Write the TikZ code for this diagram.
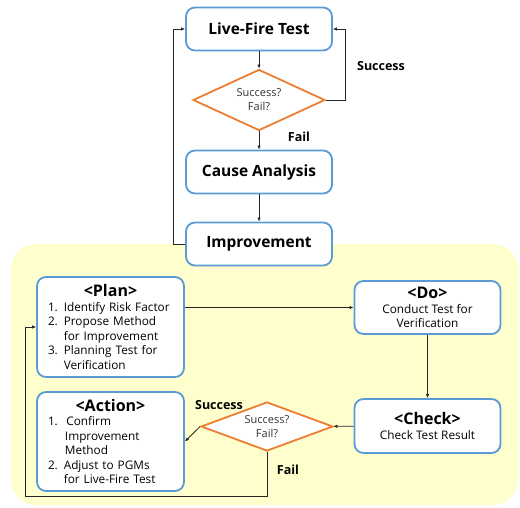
\documentclass[tikz,border=0pt]{standalone}
\usepackage{fontspec}
\setmainfont{Open Sans}
\usetikzlibrary{shapes.geometric,arrows.meta}
\definecolor{boxblue}{RGB}{91,155,213}
\definecolor{diaorange}{RGB}{237,125,49}
\definecolor{pdcayellow}{RGB}{255,255,206}
\newcommand{\headfont}{\fontsize{16}{17}\selectfont\bfseries}
\begin{document}
\begin{tikzpicture}[x=1pt,y=-1pt,
    box/.style={draw=boxblue, line width=1.8pt, rounded corners=9pt, fill=white,
        minimum width=146pt, inner sep=2pt, font=\fontsize{11.8}{14.5}\selectfont},
    listbox/.style={box, inner xsep=11pt, text width=125pt, align=left},
    bigbox/.style={box, minimum height=43pt, font=\fontsize{15.5}{18}\selectfont\bfseries},
    dia/.style={draw=diaorange, line width=1.8pt, diamond, aspect=2.4, inner sep=0pt,
        fill=white, text=black!80, align=center, font=\fontsize{11}{14}\selectfont},
    link/.style={line width=0.8pt, black!85, -{Latex[length=4pt,width=3.5pt]}},
    lbl/.style={font=\fontsize{12.5}{14}\selectfont\bfseries}]
    \useasboundingbox (0,0) rectangle (520,507);

    \fill[pdcayellow, rounded corners=25pt] (11,244) rectangle (518,505); %PDCA area

    \node[bigbox] (live) at (259,29) {Live-Fire Test};
    \node[dia, minimum width=132pt, minimum height=61pt] (dia1) at (259,100) {Success?\\Fail?};
    \node[bigbox] (cause) at (259,172) {Cause Analysis};
    \node[bigbox] (impr) at (259,244) {Improvement};

    \node[listbox, minimum height=100pt] (plan) at (110.5,327) {\makebox[125pt]{\headfont <Plan>}\\
        1. Identify Risk Factor\\
        2. Propose Method\\
        \phantom{2. }for Improvement\\
        3. Planning Test for\\
        \phantom{3. }Verification};
    \node[listbox, minimum height=99pt] (action) at (110.5,441.5) {\makebox[125pt]{\headfont <Action>}\\
        1.\hspace{8.5pt}Confirm\\
        \hspace{17pt}Improvement\\
        \hspace{17pt}Method\\
        2. Adjust to PGMs\\
        \phantom{2. }for Live-Fire Test};
    \node[box, minimum height=53pt, align=center] (do) at (427.5,307.5) {{\headfont <Do>}\\Conduct Test for\\Verification};
    \node[box, minimum height=54pt, align=center] (check) at (427.5,426) {{\headfont <Check>}\\Check Test Result};
    \node[dia, minimum width=132pt, minimum height=49pt] (dia2) at (267,426.5) {Success?\\Fail?};

    \coordinate (back) at (25,496);

    \draw[link] (live) -- (dia1);
    \draw[link] (dia1) -- (cause);
    \draw[link] (cause) -- (impr);
    \draw[link] (impr.west) -- ++(-12,0) |- (live.west);
    \draw[link] (dia1.east) -- ++(19,0) |- (live.east);
    \node[lbl] (suc1) at (381,66) {Success};
    \node[lbl] (fail1) at (299,137) {Fail};

    \draw[link] (plan.east |- do.west) -- (do.west);
    \draw[link] (do) -- (check);
    \draw[link] (check) -- (dia2);
    \draw[link] (dia2.west) -- (action.east);
    \draw[link] (dia2.south) |- (back) |- (plan.west);
    \node[lbl] (suc2) at (219,405) {Success};
    \node[lbl] (fail2) at (288,470) {Fail};
\end{tikzpicture}
\end{document}
